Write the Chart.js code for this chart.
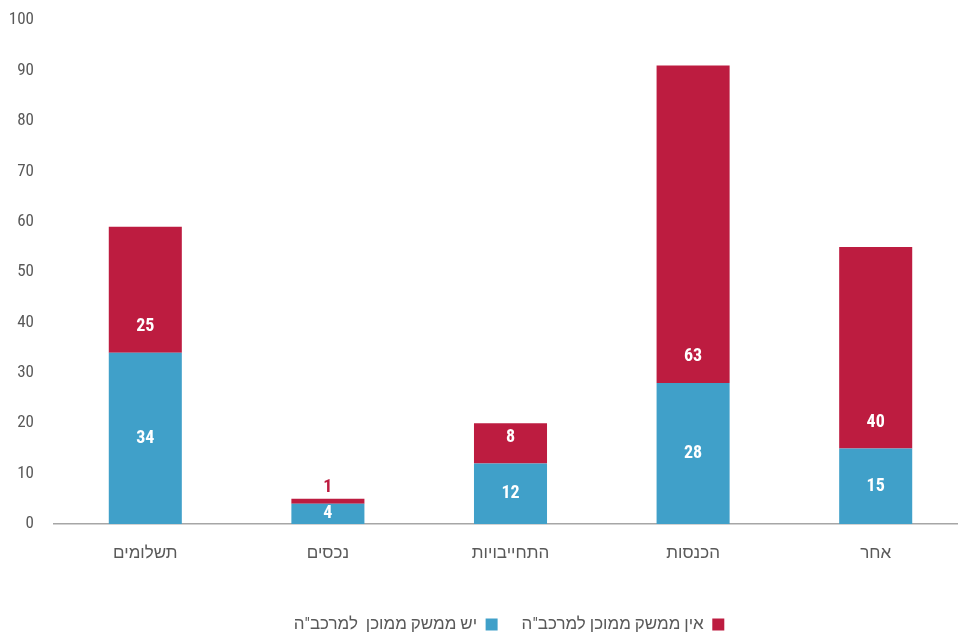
<!DOCTYPE html>
<html>
<head>
<meta charset="utf-8">
<script src="https://cdn.jsdelivr.net/npm/chart.js@4"></script>
<style>
    html, body { margin: 0; padding: 0; background: #fff; overflow: hidden; }
    #wrap { width: 958px; height: 637px; }
</style>
</head>
<body>
<div id="wrap"><canvas id="chart"></canvas></div>
<script>
const categories = ["תשלומים", "נכסים", "התחייבויות", "הכנסות", "אחר"];
const withInterface = [34, 4, 12, 28, 15];
const withoutInterface = [25, 1, 8, 63, 40];
const seriesNames = ["יש ממשק ממוכן  למרכב\"ה", "אין ממשק ממוכן למרכב\"ה"];
const yTicks = [0, 10, 20, 30, 40, 50, 60, 70, 80, 90, 100];

const BLUE = "#40a0c9";
const RED = "#bd1c40";
const FONT = "'Roboto Condensed', 'Liberation Sans Narrow', Roboto, sans-serif";

// value labels: blue ones centred, red ones near the bottom of their segment,
// and above the bar when the segment is too thin
const barLabels = {
    id: 'barLabels',
    afterDatasetsDraw(chart) {
        const ctx = chart.ctx;
        ctx.save();
        ctx.font = "bold 18px " + FONT;
        ctx.textAlign = "center";
        ctx.textBaseline = "middle";
        chart.data.datasets.forEach((ds, i) => {
            chart.getDatasetMeta(i).data.forEach((bar, j) => {
                let h = Math.abs(bar.base - bar.y);
                let y = i == 0 ? (bar.y + bar.base) / 2 : bar.base - 26;
                ctx.fillStyle = "#fff";
                if (h < 10) {
                    ctx.fillStyle = ds.backgroundColor;
                    y = bar.y - 11;
                }
                ctx.fillText(ds.data[j], bar.x, y);
            });
        });
        ctx.restore();
    }
};

// small nudges after layout: plot area a little taller / wider, legend moved
const nudge = {
    id: 'nudge',
    afterLayout(chart) {
        const x = chart.scales.x, y = chart.scales.y, area = chart.chartArea;
        y.top -= 10; y.height += 10; y.configure();
        area.top -= 10; area.height += 10;
        x.right += 9; x.width += 9; x.configure();
        area.right += 9; area.width += 9;
        const lg = chart.legend;
        lg.left += 28; lg.right += 28;
        lg.top += 6; lg.bottom += 6;
    }
};

new Chart(document.getElementById("chart"), {
    type: 'bar',
    data: {
        labels: categories,
        datasets: [
            { label: seriesNames[0], data: withInterface, backgroundColor: BLUE },
            { label: seriesNames[1], data: withoutInterface, backgroundColor: RED }
        ]
    },
    options: {
        responsive: true,
        maintainAspectRatio: false,
        animation: false,
        layout: { padding: { top: 0, right: 0, left: 4, bottom: 0 } },
        datasets: {
            bar: { barPercentage: 0.4, categoryPercentage: 1 }
        },
        scales: {
            x: {
                stacked: true,
                grid: { display: false, drawTicks: false },
                border: { display: true, color: "#a6a6a6", width: 1.5 },
                ticks: { color: "#595959", font: { family: FONT, size: 17 }, padding: 20 },
                afterFit: (axis) => { axis.height = 62; }
            },
            y: {
                stacked: true,
                min: 0,
                max: 100,
                afterBuildTicks: (axis) => { axis.ticks = yTicks.map(v => ({ value: v })); },
                afterFit: (axis) => { axis.width = 50; },
                grid: { display: false, drawTicks: false },
                border: { display: false },
                ticks: { color: "#595959", font: { family: FONT, size: 17 }, padding: 20 }
            }
        },
        plugins: {
            legend: {
                position: 'bottom',
                rtl: true,
                reverse: true,
                labels: {
                    color: "#595959",
                    font: { family: FONT, size: 17 },
                    boxWidth: 12,
                    boxHeight: 12,
                    padding: 24
                }
            },
            tooltip: { enabled: false }
        }
    },
    plugins: [barLabels, nudge]
});
</script>
</body>
</html>
